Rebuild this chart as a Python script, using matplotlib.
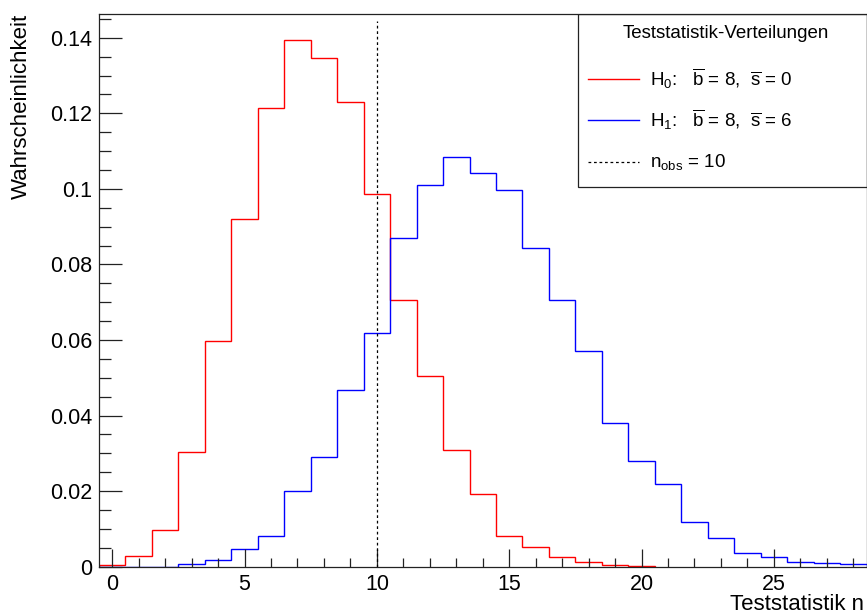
import matplotlib
matplotlib.use('Agg')
import matplotlib.pyplot as plt
import numpy as np
from matplotlib.patches import Rectangle
from matplotlib.ticker import FixedLocator, MultipleLocator, FuncFormatter

plt.rcParams['font.family'] = ['Liberation Sans', 'DejaVu Sans']
plt.rcParams['mathtext.fontset'] = 'custom'
plt.rcParams['mathtext.rm'] = 'Liberation Sans'
plt.rcParams['mathtext.it'] = 'Liberation Sans:italic'
plt.rcParams['mathtext.bf'] = 'Liberation Sans:bold'

# Bin contents, one bin per integer n (bin edges at n +- 0.5)
n_bins = np.arange(-0.5, 29.5, 1.0)
h0_values = [0.0004, 0.0029, 0.0097, 0.0303, 0.0598, 0.0920, 0.1213, 0.1394,
             0.1347, 0.1229, 0.0987, 0.0705, 0.0504, 0.0309, 0.0193, 0.0080,
             0.0052, 0.0026, 0.0012, 0.0004, 0.0003]
h1_values = [0.0, 0.0, 0.0, 0.0006, 0.0017, 0.0046, 0.0080, 0.0201, 0.0291,
             0.0469, 0.0618, 0.0871, 0.1010, 0.1084, 0.1042, 0.0997, 0.0844,
             0.0705, 0.0571, 0.0380, 0.0281, 0.0218, 0.0119, 0.0077, 0.0035,
             0.0026, 0.0012, 0.0010, 0.0007]
n_obs = 10
line_top = 0.1445

legend_title = 'Teststatistik-Verteilungen'
legend_labels = [
    r'H$_0$:   $\overline{\mathrm{b}}$ = 8,  $\overline{\mathrm{s}}$ = 0',
    r'H$_1$:   $\overline{\mathrm{b}}$ = 8,  $\overline{\mathrm{s}}$ = 6',
    r'n$_{\mathrm{obs}}$ = 10',
]

fig = plt.figure(figsize=(8.67, 6.15), dpi=100)
ax = fig.add_axes([99 / 867, 1 - 566.7 / 615, 767.5 / 867, 552.7 / 615])

edges0 = n_bins[:len(h0_values) + 1]
ax.stairs(h0_values, edges0, color='#ff0000', lw=1.0, baseline=0)
ax.stairs(h1_values, n_bins, color='#0000ff', lw=1.0, baseline=0)
ax.plot([n_obs, n_obs], [0, line_top], color='black', lw=0.9,
        linestyle=(0, (2.2, 2.2)))

ax.set_xlim(-0.5, 28.5)
ax.set_ylim(0, 0.1463)

ax.xaxis.set_major_locator(MultipleLocator(5))
ax.xaxis.set_minor_locator(MultipleLocator(1))
ax.yaxis.set_major_locator(FixedLocator([0, 0.02, 0.04, 0.06, 0.08, 0.10, 0.12, 0.14]))
ax.yaxis.set_minor_locator(MultipleLocator(0.005))
ax.yaxis.set_major_formatter(FuncFormatter(lambda v, p: '%g' % round(v, 3)))

ax.tick_params(which='both', direction='in', top=False, right=False,
               labelsize=15.5, color='#222222', width=0.9)
ax.tick_params(axis='x', which='major', length=13.2, pad=5)
ax.tick_params(axis='x', which='minor', length=6.5)
ax.tick_params(axis='y', which='major', length=16.8, pad=5)
ax.tick_params(axis='y', which='minor', length=8.6)
for sp in ax.spines.values():
    sp.set_linewidth(0.9)
    sp.set_color('#222222')

ax.set_xlabel('Teststatistik n', fontsize=16, loc='right', va='baseline')
ax.xaxis.set_label_coords((864 - 99) / 767.5, -0.0775)
ax.set_ylabel('Wahrscheinlichkeit', fontsize=16, loc='top')
ax.yaxis.set_label_coords(-0.087, 1.0)

# legend box in the upper right corner
x0, y0 = (578 - 99) / 767.5, (566.7 - 187.3) / 552.7
ax.add_patch(Rectangle((x0, y0), 1 - x0, 1 - y0, transform=ax.transAxes,
                       fill=False, ec='#222222', lw=0.9, zorder=5))
ax.text((726 - 99) / 767.5, (566.7 - 34) / 552.7, legend_title,
        transform=ax.transAxes, ha='center', va='center', fontsize=13.5)
styles = [dict(color='#ff0000', lw=1.0), dict(color='#0000ff', lw=1.0),
          dict(color='black', lw=0.9, linestyle=(0, (2.2, 2.2)))]
for ypix, label, st in zip([79, 120, 162], legend_labels, styles):
    ya = (566.7 - ypix) / 552.7
    ax.plot([(588 - 99) / 767.5, (639 - 99) / 767.5], [ya, ya],
            transform=ax.transAxes, clip_on=False, **st)
    ax.text((650 - 99) / 767.5, ya, label, transform=ax.transAxes,
            ha='left', va='center', fontsize=13.5)

fig.savefig('out.png', dpi=100)
